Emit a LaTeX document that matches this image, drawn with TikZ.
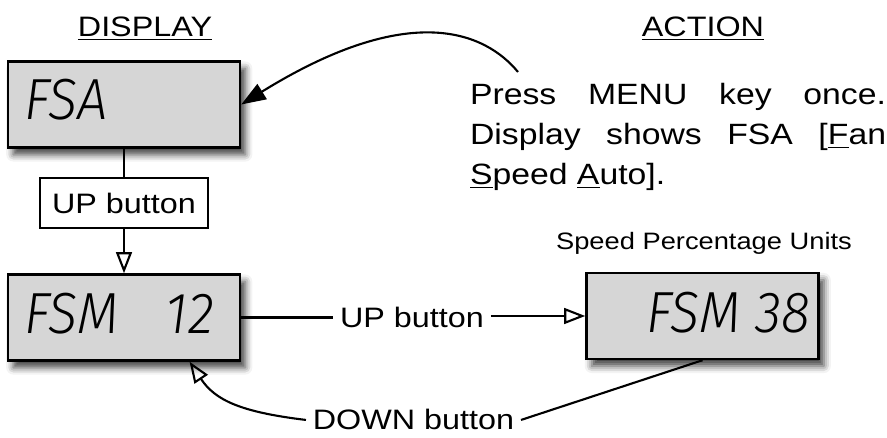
\documentclass[tikz,border=0pt]{standalone}
\usepackage{fontspec}
\setmainfont{Liberation Sans}[FakeStretch=1.15]
\newfontfamily\lcdfont{Fira Sans Light}[FakeStretch=0.93]
\usepackage{tikz}
\usetikzlibrary{arrows.meta,% open and filled triangle tips
shadows.blur}%                soft shadow under each display
\tikzset{every node/.style={font=\fontsize{16}{19}\selectfont},
  lcd/.style={draw, line width=1.4pt, fill=black!16, minimum width=4.64cm, minimum height=1.72cm,
    blur shadow={shadow xshift=3pt, shadow yshift=-4pt, shadow blur radius=4pt, shadow opacity=75}},
  lcdtext/.style={font=\lcdfont\itshape\fontsize{33}{34}\selectfont, anchor=base west, inner sep=0pt},
  button/.style={draw, line width=0.8pt, minimum width=3.36cm, minimum height=1cm},
  opentip/.style={-{Triangle[open, length=12pt, width=9pt]}}}

\begin{document}
\begin{tikzpicture}[scale = 1, line width=1.2pt]
  \useasboundingbox (0,0) rectangle (17.74,8.74);
  \node[anchor=base] (dtitle) at (2.90,8.00) {\underline{DISPLAY}};
  \node[anchor=base] (atitle) at (14.06,8.00) {\underline{ACTION}};
  % the three displays
  \node[lcd] (fsa) at (2.48,6.65) {};
  \node[lcd] (fsm12) at (2.48,2.39) {};
  \node[lcd] (fsm38) at (14.05,2.42) {};
  \node[lcdtext] (fsatxt) at (0.46,6.34) {FSA};
  \node[lcdtext] (fsm12txt) at (0.46,2.08) {FSM\hspace{0.95cm}12};
  \node[lcdtext] (fsm38txt) at (12.90,2.10) {FSM\hspace{0.3cm}38};
  \node[anchor=base, font=\fontsize{13.5}{16}\selectfont] (units) at (14.08,3.74) {Speed Percentage Units};
  % buttons
  \node[button] (upbox) at (2.48,4.68) {UP button};
  \node[anchor=base] (upmid) at (8.24,2.18) {UP button};
  \node[anchor=base] (down) at (8.27,0.14) {DOWN button};
  \draw (fsa) -- (upbox);
  \draw[opentip] (upbox) -- (fsm12);
  \draw (fsm12.east) -- (fsm12.east -| upmid.west);
  \draw[opentip] (upmid.east |- fsm38.west) -- (fsm38.west);
  \draw[opentip] (down.west) .. controls (4.80,0.50) and (4.30,0.74) .. (fsm12.-34);
  \draw (down.east) -- (fsm38.south);
  % action text
  \node[anchor=north west, inner sep=0pt, align=left, font=\fontsize{16.7}{22.8}\selectfont] (action) at (9.38,7.09)
    {\makebox[8.32cm][s]{Press MENU key once.}\\
     \makebox[8.32cm][s]{Display shows FSA [\underline{F}an}\\
     \underline{S}peed \underline{A}uto].};
  \coordinate (press) at (10.36,7.30);
  \draw[-{Triangle[length=14pt, width=10pt]}] (press) .. controls (9.70,8.10) and (8.20,8.74) .. (fsa.east);
\end{tikzpicture}
\end{document}
